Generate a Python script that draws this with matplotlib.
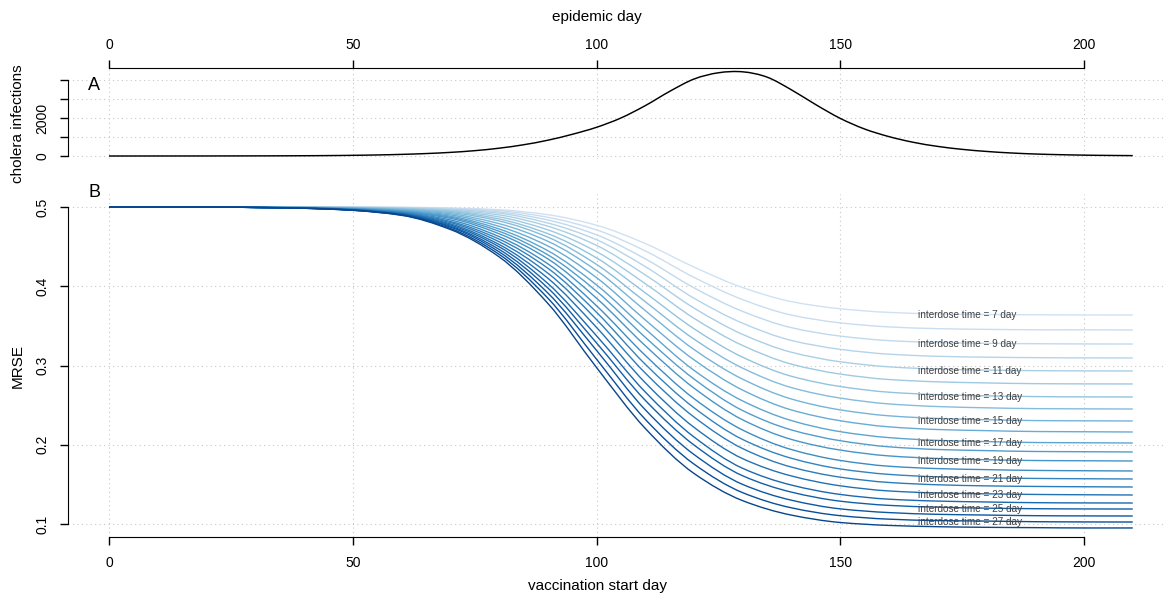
import matplotlib
matplotlib.use("Agg")
import matplotlib.pyplot as plt
from matplotlib.path import Path
from matplotlib.patches import PathPatch
import numpy as np

# ---------------- data ----------------
epi_days = [0, 5, 10, 15, 20, 25, 30, 35, 40, 45, 50, 55, 60, 65, 70, 75, 80, 85, 90, 95,
            100, 105, 110, 115, 120, 125, 130, 135, 140, 145, 150, 155, 160, 165, 170, 175,
            180, 185, 190, 195, 200, 205, 210]
epi_cases = [0, 0, 1, 1, 2, 4, 6, 9, 14, 22, 35, 55, 85, 128, 190, 280, 410, 590, 830, 1140,
             1510, 2000, 2650, 3400, 4050, 4380, 4430, 4150, 3480, 2700, 1980, 1420, 1020, 720, 505, 350,
             240, 160, 105, 70, 45, 30, 20]

start_days = [0, 10, 20, 30, 40, 50, 60, 70, 80, 90, 100, 110, 120, 130, 140, 150, 160, 170, 180, 190, 200, 210]

interdose_times = [7, 8, 9, 10, 11, 12, 13, 14, 15, 16, 17, 18, 19, 20, 21, 22, 23, 24, 25, 26, 27, 28]

mrse_07 = [0.500, 0.500, 0.500, 0.500, 0.500, 0.4998, 0.4996, 0.4987, 0.4966, 0.4903, 0.4770, 0.4539, 0.4242, 0.3983, 0.3806, 0.3716, 0.3670, 0.3651, 0.3643, 0.3640, 0.3638, 0.3637]
mrse_08 = [0.500, 0.500, 0.500, 0.500, 0.4999, 0.4998, 0.4994, 0.4983, 0.4954, 0.4870, 0.4711, 0.4446, 0.4112, 0.3831, 0.3636, 0.3538, 0.3487, 0.3465, 0.3456, 0.3451, 0.3450, 0.3448]
mrse_09 = [0.500, 0.500, 0.500, 0.500, 0.4999, 0.4997, 0.4991, 0.4976, 0.4938, 0.4836, 0.4649, 0.4346, 0.3980, 0.3682, 0.3477, 0.3371, 0.3314, 0.3290, 0.3280, 0.3275, 0.3272, 0.3271]
mrse_10 = [0.500, 0.500, 0.500, 0.4999, 0.4998, 0.4996, 0.4988, 0.4970, 0.4922, 0.4798, 0.4587, 0.4248, 0.3849, 0.3533, 0.3316, 0.3204, 0.3143, 0.3116, 0.3105, 0.3099, 0.3096, 0.3095]
mrse_11 = [0.500, 0.500, 0.500, 0.4999, 0.4998, 0.4994, 0.4985, 0.4961, 0.4900, 0.4758, 0.4516, 0.4143, 0.3725, 0.3392, 0.3167, 0.3047, 0.2983, 0.2954, 0.2942, 0.2935, 0.2932, 0.2931]
mrse_12 = [0.500, 0.500, 0.500, 0.4999, 0.4997, 0.4992, 0.4981, 0.4951, 0.4875, 0.4712, 0.4437, 0.4033, 0.3596, 0.3252, 0.3017, 0.2892, 0.2823, 0.2794, 0.2780, 0.2771, 0.2768, 0.2767]
mrse_13 = [0.500, 0.500, 0.500, 0.4998, 0.4996, 0.4990, 0.4976, 0.4942, 0.4849, 0.4664, 0.4358, 0.3917, 0.3464, 0.3104, 0.2864, 0.2735, 0.2663, 0.2632, 0.2617, 0.2608, 0.2604, 0.2603]
mrse_14 = [0.500, 0.500, 0.500, 0.4998, 0.4995, 0.4988, 0.4970, 0.4930, 0.4824, 0.4620, 0.4276, 0.3805, 0.3333, 0.2966, 0.2721, 0.2589, 0.2515, 0.2482, 0.2466, 0.2456, 0.2453, 0.2451]
mrse_15 = [0.500, 0.500, 0.500, 0.4997, 0.4994, 0.4985, 0.4964, 0.4915, 0.4790, 0.4568, 0.4198, 0.3693, 0.3202, 0.2827, 0.2577, 0.2440, 0.2365, 0.2332, 0.2316, 0.2305, 0.2302, 0.2300]
mrse_16 = [0.500, 0.500, 0.500, 0.4997, 0.4993, 0.4983, 0.4957, 0.4900, 0.4756, 0.4509, 0.4109, 0.3575, 0.3072, 0.2689, 0.2439, 0.2303, 0.2226, 0.2192, 0.2178, 0.2167, 0.2164, 0.2161]
mrse_17 = [0.500, 0.500, 0.500, 0.4996, 0.4992, 0.4980, 0.4951, 0.4884, 0.4723, 0.4449, 0.4017, 0.3463, 0.2939, 0.2552, 0.2305, 0.2165, 0.2090, 0.2055, 0.2040, 0.2028, 0.2025, 0.2022]
mrse_18 = [0.500, 0.500, 0.500, 0.4996, 0.4991, 0.4977, 0.4945, 0.4871, 0.4694, 0.4397, 0.3937, 0.3356, 0.2830, 0.2431, 0.2187, 0.2051, 0.1974, 0.1940, 0.1926, 0.1915, 0.1912, 0.1909]
mrse_19 = [0.500, 0.500, 0.500, 0.4996, 0.4989, 0.4974, 0.4939, 0.4857, 0.4663, 0.4346, 0.3849, 0.3250, 0.2715, 0.2314, 0.2067, 0.1933, 0.1859, 0.1827, 0.1811, 0.1801, 0.1798, 0.1795]
mrse_20 = [0.500, 0.500, 0.500, 0.4995, 0.4988, 0.4972, 0.4933, 0.4837, 0.4627, 0.4284, 0.3754, 0.3128, 0.2582, 0.2185, 0.1939, 0.1802, 0.1729, 0.1699, 0.1686, 0.1676, 0.1672, 0.1669]
mrse_21 = [0.500, 0.500, 0.500, 0.4995, 0.4987, 0.4969, 0.4926, 0.4818, 0.4595, 0.4228, 0.3672, 0.3016, 0.2467, 0.2066, 0.1829, 0.1695, 0.1626, 0.1595, 0.1582, 0.1575, 0.1571, 0.1568]
mrse_22 = [0.500, 0.500, 0.500, 0.4995, 0.4987, 0.4967, 0.4921, 0.4804, 0.4562, 0.4166, 0.3580, 0.2905, 0.2350, 0.1951, 0.1718, 0.1591, 0.1524, 0.1495, 0.1481, 0.1474, 0.1470, 0.1467]
mrse_23 = [0.500, 0.500, 0.500, 0.4995, 0.4986, 0.4965, 0.4915, 0.4787, 0.4528, 0.4102, 0.3481, 0.2783, 0.2220, 0.1824, 0.1606, 0.1482, 0.1417, 0.1391, 0.1381, 0.1373, 0.1369, 0.1366]
mrse_24 = [0.500, 0.500, 0.500, 0.4994, 0.4985, 0.4963, 0.4911, 0.4773, 0.4499, 0.4036, 0.3375, 0.2666, 0.2098, 0.1702, 0.1491, 0.1373, 0.1313, 0.1289, 0.1278, 0.1269, 0.1266, 0.1265]
mrse_25 = [0.500, 0.500, 0.500, 0.4994, 0.4985, 0.4962, 0.4906, 0.4758, 0.4466, 0.3979, 0.3285, 0.2561, 0.1997, 0.1608, 0.1402, 0.1288, 0.1235, 0.1212, 0.1200, 0.1193, 0.1190, 0.1189]
mrse_26 = [0.500, 0.500, 0.500, 0.4994, 0.4984, 0.4961, 0.4903, 0.4747, 0.4435, 0.3916, 0.3191, 0.2442, 0.1877, 0.1499, 0.1300, 0.1191, 0.1144, 0.1122, 0.1113, 0.1105, 0.1102, 0.1101]
mrse_27 = [0.500, 0.500, 0.500, 0.4994, 0.4984, 0.4959, 0.4899, 0.4730, 0.4404, 0.3851, 0.3080, 0.2321, 0.1756, 0.1395, 0.1204, 0.1105, 0.1061, 0.1043, 0.1037, 0.1029, 0.1026, 0.1025]
mrse_28 = [0.500, 0.500, 0.500, 0.4994, 0.4984, 0.4958, 0.4895, 0.4717, 0.4372, 0.3785, 0.2975, 0.2206, 0.1638, 0.1294, 0.1112, 0.1019, 0.0982, 0.0966, 0.0958, 0.0954, 0.0950, 0.0950]

mrse_curves = [mrse_07, mrse_08, mrse_09, mrse_10, mrse_11, mrse_12, mrse_13, mrse_14, mrse_15,
               mrse_16, mrse_17, mrse_18, mrse_19, mrse_20, mrse_21, mrse_22, mrse_23, mrse_24,
               mrse_25, mrse_26, mrse_27, mrse_28]

labelled_interdose = [7, 9, 11, 13, 15, 17, 19, 21, 23, 25, 27]
label_x_day = 166

x_ticks = [0, 50, 100, 150, 200]
top_y_ticks = [0, 1000, 2000, 3000, 4000]
top_y_ticklabels = ["0", "", "2000", "", ""]
bottom_y_ticks = [0.1, 0.2, 0.3, 0.4, 0.5]
bottom_y_ticklabels = ["0.1", "0.2", "0.3", "0.4", "0.5"]


# ---------------- helpers: draw a smooth line through the data points ----------------
def smooth_path(xs, ys, monotone=True):
    x = np.asarray(xs, float)
    y = np.asarray(ys, float)
    h = np.diff(x)
    d = np.diff(y) / h
    m = np.zeros_like(y)
    m[0], m[-1] = d[0], d[-1]
    if monotone:
        for i in range(1, len(y) - 1):
            if d[i - 1] * d[i] <= 0:
                m[i] = 0.0
            else:
                w1 = 2 * h[i] + h[i - 1]
                w2 = h[i] + 2 * h[i - 1]
                m[i] = (w1 + w2) / (w1 / d[i - 1] + w2 / d[i])
    else:
        for i in range(1, len(y) - 1):
            m[i] = (y[i + 1] - y[i - 1]) / (x[i + 1] - x[i - 1])
    verts = [(x[0], y[0])]
    codes = [Path.MOVETO]
    for i in range(len(x) - 1):
        verts += [(x[i] + h[i] / 3, y[i] + m[i] * h[i] / 3),
                  (x[i + 1] - h[i] / 3, y[i + 1] - m[i + 1] * h[i] / 3),
                  (x[i + 1], y[i + 1])]
        codes += [Path.CURVE4] * 3
    return Path(verts, codes)


# ---------------- style ----------------
plt.rcParams['font.family'] = ['Liberation Sans', 'DejaVu Sans']
W, H = 1166, 597
fig = plt.figure(figsize=(W / 100, H / 100), dpi=100)


def fx(px):
    return px / W


def fy(py):
    return 1 - py / H


px_per_day = (1084 - 109) / 200.0
xlim = ((68 - 109) / px_per_day, (W - 109) / px_per_day)

grid_kw = dict(color='#c8c8c8', lw=0.8, ls=(0, (1, 3)), zorder=0)
tick_kw = dict(length=6, width=1, color='black', labelsize=10)

# ---------------- top panel ----------------
top_px, bot_px = 68, 159.4
ax1 = fig.add_axes([fx(68), fy(bot_px), fx(W - 68), (bot_px - top_px) / H])
ppu = (156 - 80) / 4000.0
ax1.set_xlim(*xlim)
ax1.set_ylim(-(bot_px - 156) / ppu, (156 - top_px) / ppu)
for t in x_ticks:
    ax1.axvline(t, **grid_kw)
for t in top_y_ticks:
    ax1.axhline(t, **grid_kw)
ax1.add_patch(PathPatch(smooth_path(epi_days, epi_cases, monotone=False),
                        facecolor='none', edgecolor='black', lw=1.05, zorder=3))
for s in ['bottom', 'right']:
    ax1.spines[s].set_visible(False)
ax1.spines['top'].set_bounds(0, 200)
ax1.spines['left'].set_bounds(0, 4000)
ax1.xaxis.set_ticks_position('top')
ax1.set_xticks(x_ticks)
ax1.set_xticklabels([str(t) for t in x_ticks])
ax1.set_yticks(top_y_ticks)
ax1.set_yticklabels(top_y_ticklabels)
ax1.tick_params(axis='x', direction='out', pad=5.5, **tick_kw)
ax1.tick_params(axis='y', direction='out', pad=7.5, labelrotation=90, **tick_kw)
for lab in ax1.get_yticklabels():
    lab.set_va('center')
ax1.patch.set_visible(False)

# ---------------- bottom panel ----------------
top_px2, bot_px2 = 194, 537
ax2 = fig.add_axes([fx(68), fy(bot_px2), fx(W - 68), (bot_px2 - top_px2) / H])
ppu2 = (524 - 207) / 0.4
ax2.set_xlim(*xlim)
ax2.set_ylim(0.1 - (bot_px2 - 524) / ppu2, 0.5 + (207 - top_px2) / ppu2)
for t in x_ticks:
    ax2.axvline(t, **grid_kw)
for t in bottom_y_ticks:
    ax2.axhline(t, **grid_kw)

cmap = plt.get_cmap('Blues')
n = len(mrse_curves)
for i, (idt, vals) in enumerate(zip(interdose_times, mrse_curves)):
    col = cmap(0.2 + 0.72 * i / (n - 1))
    ax2.add_patch(PathPatch(smooth_path(start_days, vals, monotone=True),
                            facecolor='none', edgecolor=col, lw=1.0, zorder=2 + i * 0.01))

for idt, vals in zip(interdose_times, mrse_curves):
    if idt in labelled_interdose:
        ax2.text(label_x_day, vals[-1], f"interdose time = {idt} day", fontsize=7.2,
                 color='#404040', ha='left', va='center', zorder=5)

for s in ['top', 'right']:
    ax2.spines[s].set_visible(False)
ax2.spines['bottom'].set_bounds(0, 200)
ax2.spines['left'].set_bounds(0.1, 0.5)
ax2.set_xticks(x_ticks)
ax2.set_xticklabels([str(t) for t in x_ticks])
ax2.set_yticks(bottom_y_ticks)
ax2.set_yticklabels(bottom_y_ticklabels)
ax2.tick_params(axis='x', direction='out', pad=8, **tick_kw)
ax2.tick_params(axis='y', direction='out', pad=7.5, labelrotation=90, **tick_kw)
for lab in ax2.get_yticklabels():
    lab.set_va('center')
ax2.patch.set_visible(False)

# ---------------- texts ----------------
fig.text(fx(597), fy(17), "epidemic day", ha='center', va='center', fontsize=11)
fig.text(fx(597), fy(586), "vaccination start day", ha='center', va='center', fontsize=11)
fig.text(fx(18), fy(124), "cholera infections", ha='center', va='center', rotation=90, fontsize=11)
fig.text(fx(18), fy(366), "MRSE", ha='center', va='center', rotation=90, fontsize=11)
fig.text(fx(94), fy(85), "A", ha='center', va='center', fontsize=13)
fig.text(fx(94), fy(192), "B", ha='center', va='center', fontsize=13)

fig.savefig("out.png", dpi=100)
